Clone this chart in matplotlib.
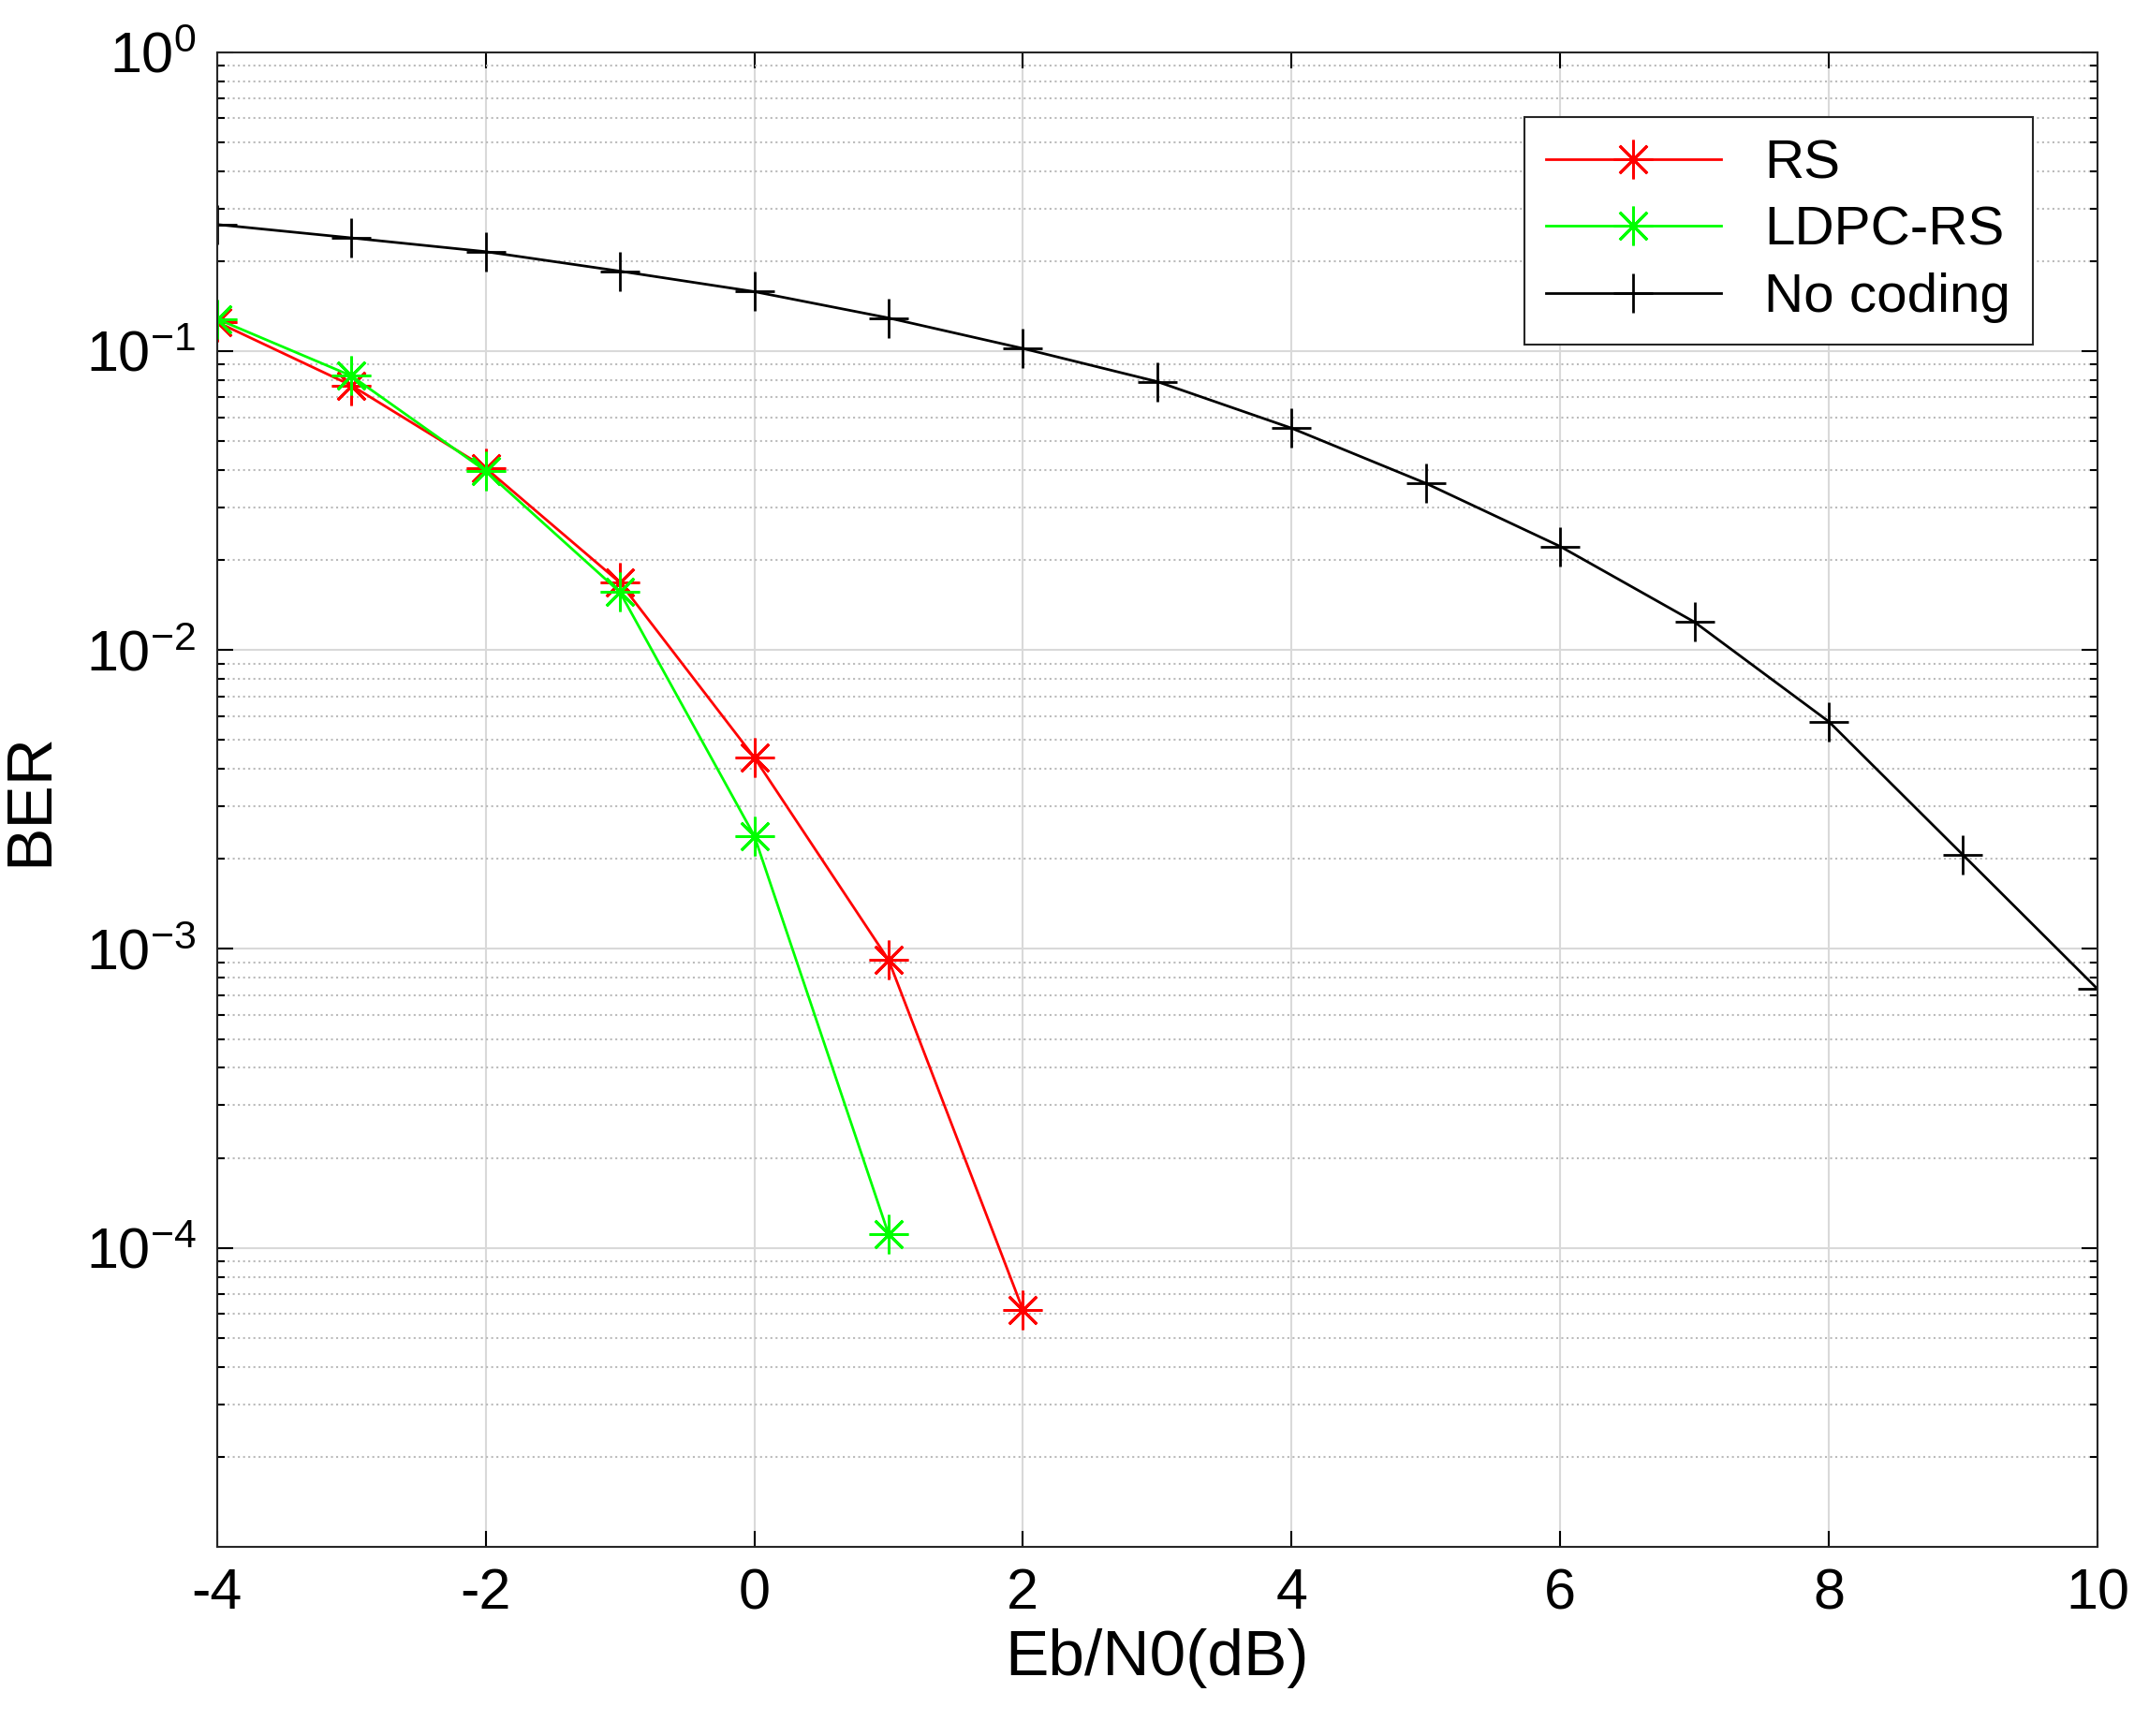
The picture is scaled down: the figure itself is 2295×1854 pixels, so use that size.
import matplotlib
matplotlib.use('Agg')
import matplotlib.pyplot as plt
from matplotlib.ticker import LogLocator, FixedLocator

plt.rcParams['font.family'] = ['Liberation Sans', 'DejaVu Sans']
plt.rcParams['mathtext.default'] = 'regular'
plt.rcParams['axes.unicode_minus'] = False

# data
snr_nc = list(range(-4, 11))
ber_nc = [0.265, 0.239, 0.215, 0.185, 0.158, 0.129, 0.102, 0.079, 0.0552,
          0.0361, 0.0222, 0.0124, 0.00576, 0.00206, 0.000735]
snr_rs = [-4, -3, -2, -1, 0, 1, 2]
ber_rs = [0.125, 0.0767, 0.0406, 0.0168, 0.00437, 0.000918, 6.2e-5]
snr_ldpc = [-4, -3, -2, -1, 0, 1]
ber_ldpc = [0.128, 0.0826, 0.0397, 0.0156, 0.00239, 1.11e-4]

fig = plt.figure(figsize=(22.95, 18.54), dpi=100)
ax = fig.add_axes([0.101, 0.109, 0.883 - 0.008, 0.861])

ast = (8, 2, 0)
ax.semilogy(snr_rs, ber_rs, color='#ff0000', marker=ast, ms=30, mew=2, lw=2, label='RS')
ax.semilogy(snr_ldpc, ber_ldpc, color='#00ff00', marker=ast, ms=30, mew=2, lw=2, label='LDPC-RS')
ax.semilogy(snr_nc, ber_nc, color='black', marker='+', ms=30, mew=2, lw=2, label='No coding')

ax.set_xlim(-4, 10)
ax.set_ylim(1e-5, 1)
ax.set_xticks(range(-4, 11, 2))
ax.yaxis.set_major_locator(FixedLocator([1e-4, 1e-3, 1e-2, 1e-1, 1e0]))
ax.set_yticklabels(['$10^{-4}$', '$10^{-3}$', '$10^{-2}$', '$10^{-1}$', '$10^{0}$'])
ax.yaxis.set_minor_locator(LogLocator(base=10, subs=range(2, 10), numticks=20))
ax.grid(True, which='major', color='#d9d9d9', lw=1.5)
ax.grid(True, which='minor', axis='y', color='#bbbbbb', ls=':', lw=1.5)
ax.tick_params(which='both', direction='in', labelsize=44, width=1.5, length=12, top=True, right=True, pad=16)
ax.tick_params(which='minor', length=6)
for s in ax.spines.values():
    s.set_linewidth(1.5)
    s.set_color('#262626')

ax.set_xlabel('Eb/N0(dB)', fontsize=50, labelpad=6)
ax.set_ylabel('BER', fontsize=50, labelpad=20)
leg = ax.legend(loc='upper right', fontsize=42, fancybox=False, edgecolor='#262626',
                framealpha=1, handlelength=3.2, borderpad=0.4, labelspacing=0.3,
                bbox_to_anchor=(0.98, 0.975))
leg.get_frame().set_linewidth(1.5)

fig.savefig('out.png')
